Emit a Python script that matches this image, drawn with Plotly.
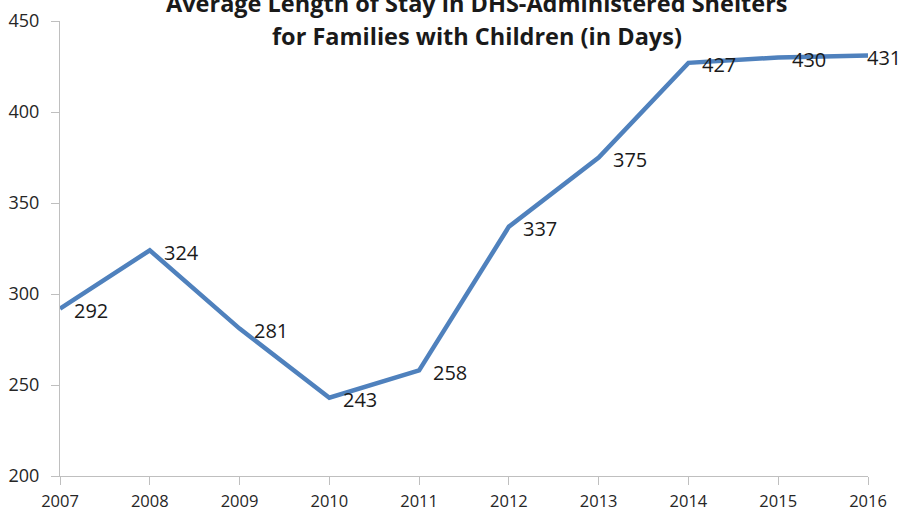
import plotly.graph_objects as go

years = [2007, 2008, 2009, 2010, 2011, 2012, 2013, 2014, 2015, 2016]
days = [292, 324, 281, 243, 258, 337, 375, 427, 430, 431]
title_lines = ["Average Length of Stay in DHS-Administered Shelters",
               "for Families with Children (in Days)"]
y_ticks = [200, 250, 300, 350, 400, 450]

FONT = "Open Sans"

fig = go.Figure()
fig.add_trace(go.Scatter(
    x=years, y=days, mode="lines",
    line=dict(color="#4F81BD", width=4.5),
    hoverinfo="x+y", showlegend=False,
))

annotations = []
for i, (x, y) in enumerate(zip(years, days)):
    last = i == len(years) - 1
    annotations.append(dict(
        x=x, y=y, xref="x", yref="y", text=str(y), showarrow=False,
        xanchor="left", yanchor="middle",
        xshift=-3 if last else 12, yshift=-2,
        font=dict(family=FONT, size=20, color="#1a1a1a"),
    ))

# title (top line clipped by the window edge, as in the reference)
for line, ypix in zip(title_lines, [3.5, 36.5]):
    annotations.append(dict(
        x=(477 - 60) / 808, y=1 + (21 - ypix) / 455, xref="paper", yref="paper",
        text="<b>" + line + "</b>", showarrow=False,
        xanchor="center", yanchor="middle",
        font=dict(family=FONT, size=23.5, color="#1a1a1a"),
    ))

fig.update_layout(
    width=904, height=512,
    margin=dict(l=60, r=36, t=21, b=36, autoexpand=False),
    paper_bgcolor="white", plot_bgcolor="white",
    annotations=annotations,
    font=dict(family=FONT, color="#333333"),
)
fig.update_xaxes(
    range=[2007, 2016], tickmode="array", tickvals=years,
    ticktext=[str(y) for y in years],
    showgrid=False, zeroline=False, automargin=False,
    showline=True, linecolor="#bfbfbf", linewidth=1,
    ticks="outside", ticklen=8, tickcolor="#bfbfbf",
    ticklabelstandoff=2,
    tickfont=dict(family=FONT, size=16.5, color="#262626"),
)
fig.update_yaxes(
    range=[200, 450], tickmode="array", tickvals=y_ticks,
    showgrid=False, zeroline=False, automargin=False,
    showline=True, linecolor="#bfbfbf", linewidth=1,
    ticks="outside", ticklen=8, tickcolor="#bfbfbf",
    ticklabelstandoff=8,
    tickfont=dict(family=FONT, size=18, color="#262626"),
)

fig.write_html("out.html")
